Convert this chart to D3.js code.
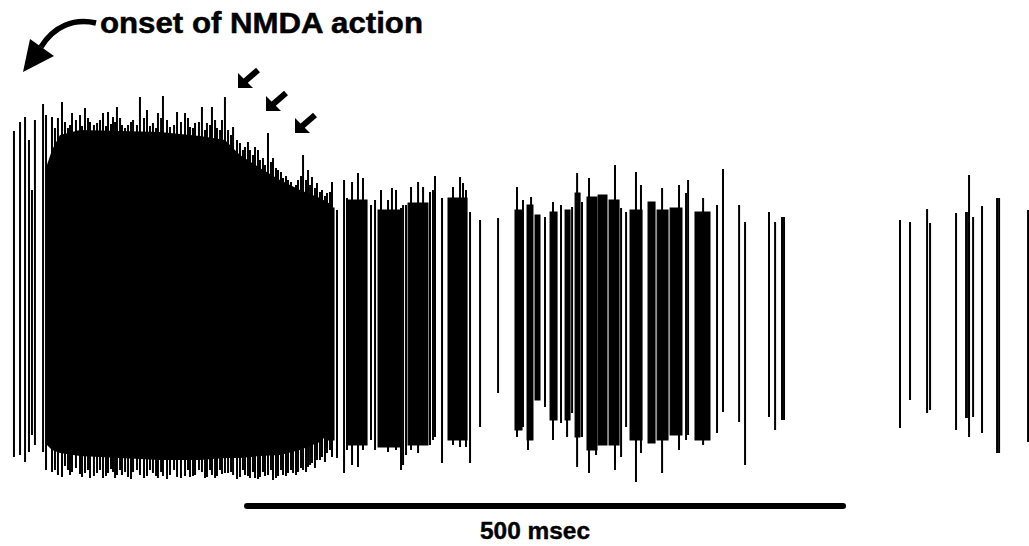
<!DOCTYPE html>
<html><head><meta charset="utf-8">
<script src="https://cdn.jsdelivr.net/npm/d3@7"></script>
<style>html,body{margin:0;padding:0;background:#fff;} svg{display:block}</style>
</head><body>
<svg id="chart" width="1029" height="546"></svg>
<script>
// ---------- DATA (time in ms, amplitude in arbitrary units) ----------
// isolated / sparse spikes
const spikeTimes = [4.5, 9.6, 13.8, 17.1, 19.6, 22.1, 28.9, 31.4,
  275.5, 281.4, 283.9, 288.1, 293.1, 297.3, 304.0, 307.4, 312.4, 318.3, 321.6, 325.0, 329.2, 330.9, 333.4, 337.6, 343.5, 347.7, 353.5, 356.0, 357.7, 363.6, 372.8, 378.7, 381.2, 383.7, 387.1, 395.5, 410.6, 426.5, 431.5, 435.7, 438.3, 450.0, 456.7, 463.4, 468.5, 472.7, 476.9, 481.0, 486.9, 492.8, 508.7, 513.8, 518.0, 526.3, 530.5, 548.2, 562.4, 568.3, 570.0, 582.6, 594.3, 599.3, 612.8, 617.8, 637.9, 643.0, 648.8, 650.5, 747.8, 756.2, 770.5, 773.0, 794.8, 803.2, 804.9, 805.7, 809.1, 816.6, 829.2, 830.9, 855.2];
const spikePeaks = [159, 168, 173, 150, 100, 170, 186, 175,
  80, 110, 92, 108, 117, 112, 85, 90, 100, 90, 102, 100, 82, 85, 85, 103, 108, 103, 98, 100, 114, 92, 103, 113, 107, 100, 78, 70, 72, 103, 90, 85, 93, 73, 88, 85, 80, 83, 117, 88, 112, 93, 125, 82, 78, 118, 105, 102, 105, 97, 110, 92, 85, 121, 85, 68, 78, 68, 73, 73, 70, 68, 81, 67, 77, 78, 78, 115, 73, 84, 92, 92, 80];
const spikeTroughs = [-167, -165, -172, -162, -145, -155, -162, -180,
  -168, -183, -160, -175, -177, -160, -150, -160, -157, -162, -157, -160, -180, -175, -165, -160, -163, -155, -155, -150, -147, -173, -155, -157, -150, -157, -173, -137, -103, -147, -137, -160, -150, -117, -150, -133, -147, -123, -177, -147, -183, -165, -180, -167, -137, -192, -163, -183, -160, -150, -145, -155, -143, -122, -132, -175, -127, -140, -130, -130, -138, -110, -123, -120, -140, -128, -128, -147, -127, -143, -163, -163, -152];

// spikes of the initial NMDA-driven high-frequency discharge
const onsetSpikeTimes = [36.4, 41.4, 44.8, 49.8, 53.2, 59.9, 64.1, 68.3, 74.2, 79.2, 83.4, 87.6, 90.9, 95.1, 100.2, 104.4, 110.2, 116.1, 121.1, 125.3, 129.5, 135.4, 141.3, 148.0, 152.2, 156.4, 162.2, 166.4, 170.6, 174.8, 179.0, 181.5, 184.1, 188.3, 194.1, 198.3, 202.5, 206.7, 210.9, 217.6, 221.8, 226.0, 230.2, 234.4, 238.6, 242.8, 247.0, 251.2, 254.5, 258.7, 262.9, 267.1, 271.3,
  38.9, 47.3, 51.5, 56.5, 61.6, 66.6, 71.6, 76.7, 81.7, 85.9, 89.3, 93.5, 97.7, 102.7, 107.7, 113.6, 118.6, 123.7, 127.9, 132.9, 138.8, 144.6, 150.5, 154.7, 159.7, 164.8, 169.0, 173.2, 177.4, 186.6, 191.6, 196.6, 200.8, 205.0, 209.2, 213.4, 215.1, 220.1, 224.3, 228.5, 232.7, 236.9, 241.1, 245.3, 249.5, 252.9, 257.0, 261.2, 265.4, 269.6];
const onsetSpikePeaks = [173, 172, 188, 162, 177, 175, 182, 168, 167, 177, 178, 173, 183, 165, 165, 170, 193, 180, 167, 177, 194, 163, 178, 177, 163, 167, 183, 167, 183, 162, 170, 193, 160, 163, 147, 143, 140, 143, 130, 157, 132, 120, 112, 110, 103, 110, 135, 120, 113, 107, 100, 97, 108,
  162, 168, 165, 170, 164, 172, 165, 170, 164, 166, 168, 172, 162, 168, 165, 172, 164, 162, 172, 170, 165, 168, 172, 162, 168, 160, 165, 170, 160, 155, 150, 140, 148, 135, 140, 132, 125, 128, 122, 118, 114, 108, 105, 114, 110, 105, 102, 98, 94, 98];
const onsetSpikeTroughs = [-182, -185, -187, -180, -182, -184, -183, -188, -183, -188, -183, -182, -185, -185, -187, -182, -185, -186, -183, -188, -186, -185, -187, -186, -187, -185, -182, -187, -185, -186, -184, -183, -183, -185, -187, -185, -188, -188, -187, -185, -190, -186, -185, -183, -183, -182, -180, -177, -173, -170, -167, -163, -167,
  -180, -176, -185, -178, -187, -180, -186, -180, -186, -179, -188, -180, -182, -189, -180, -188, -180, -186, -182, -189, -180, -188, -180, -186, -180, -188, -180, -188, -180, -182, -189, -180, -186, -182, -189, -182, -186, -180, -188, -180, -186, -180, -185, -178, -182, -175, -178, -170, -172, -160];

// envelope of the initial discharge (membrane swept continuously between spikes)
const onsetEnvTimes = [32.2, 36.4, 43.1, 59.9, 93.5, 127.0, 160.6, 181.5, 194.1, 210.9, 227.7, 244.5, 261.2, 271.3];
const onsetEnvUpper = [125, 140, 155, 160, 159, 158, 154, 150, 135, 122, 110, 100, 92, 85];
const onsetEnvLower = [-155, -160, -163, -166, -168, -170, -170, -168, -168, -166, -165, -160, -152, -140];

// later high-frequency clusters (envelope of closely packed spikes)
const burstStart  = [268.0, 284.7, 309.9, 335.1, 368.6, 424.8, 434.9, 441.6, 454.2, 466.8, 475.2, 485.2, 494.5, 503.7, 521.3, 536.4, 544.0, 554.9, 575.8];
const burstEnd    = [273.0, 300.7, 328.4, 351.8, 384.6, 430.7, 439.9, 445.8, 460.1, 471.0, 479.4, 493.6, 502.0, 512.1, 531.4, 542.3, 553.2, 564.9, 588.4];
const burstPeak   = [82, 90, 80, 87, 92, 80, 85, 75, 78, 80, 97, 93, 95, 90, 80, 88, 80, 82, 78];
const burstTrough = [-150, -155, -157, -155, -150, -140, -150, -110, -130, -130, -147, -160, -155, -155, -150, -153, -150, -145, -150];

const scaleBarMs = [200, 700];
const scaleBarLabel = "500 msec";
const onsetLabel = "onset of NMDA action";

// ---------- DRAW ----------
const svg = d3.select("#chart");
const x = d3.scaleLinear().domain([0, 856]).range([8.6, 1029]);
const y = d3.scaleLinear().domain([-190, 190]).range([480, 100]);
const FONT = "'Liberation Sans', Arial, Helvetica, sans-serif";

const env = onsetEnvTimes.map((t, i) => ({t, hi: onsetEnvUpper[i], lo: onsetEnvLower[i]}));
svg.append("path")
  .datum(env)
  .attr("fill", "#000")
  .attr("d", d3.area().x(d => x(d.t)).y0(d => y(d.lo)).y1(d => y(d.hi)));

const bursts = burstStart.map((s, i) => ({s, e: burstEnd[i], p: burstPeak[i], q: burstTrough[i]}));
svg.append("g").selectAll("rect").data(bursts).join("rect")
  .attr("x", d => x(d.s)).attr("width", d => x(d.e) - x(d.s))
  .attr("y", d => y(d.p)).attr("height", d => y(d.q) - y(d.p))
  .attr("fill", "#000").attr("stroke", "#000").attr("stroke-width", 1);

const onset = onsetSpikeTimes.map((t, i) => ({t, p: onsetSpikePeaks[i], q: onsetSpikeTroughs[i]}));
svg.append("g").selectAll("line").data(onset).join("line")
  .attr("x1", d => x(d.t)).attr("x2", d => x(d.t))
  .attr("y1", d => y(d.p)).attr("y2", d => y(d.q))
  .attr("stroke", "#000").attr("stroke-width", 2);

const spikes = spikeTimes.map((t, i) => ({t, p: spikePeaks[i], q: spikeTroughs[i]}));
svg.append("g").selectAll("line").data(spikes).join("line")
  .attr("x1", d => x(d.t)).attr("x2", d => x(d.t))
  .attr("y1", d => y(d.p)).attr("y2", d => y(d.q))
  .attr("stroke", "#000").attr("stroke-width", 2);

// scale bar
svg.append("line")
  .attr("x1", x(scaleBarMs[0])).attr("x2", x(scaleBarMs[1]))
  .attr("y1", 506).attr("y2", 506)
  .attr("stroke", "#000").attr("stroke-width", 6).attr("stroke-linecap", "round");
svg.append("text")
  .attr("x", 535).attr("y", 539).attr("text-anchor", "middle")
  .attr("font-family", FONT).attr("font-weight", "bold")
  .attr("font-size", 24).attr("textLength", 110).attr("lengthAdjust", "spacingAndGlyphs")
  .attr("stroke", "#000").attr("stroke-width", 0.4)
  .text(scaleBarLabel);

// title annotation with curved arrow
svg.append("text")
  .attr("x", 100).attr("y", 33)
  .attr("font-family", FONT).attr("font-weight", "bold")
  .attr("font-size", 29).attr("textLength", 323).attr("lengthAdjust", "spacingAndGlyphs")
  .attr("stroke", "#000").attr("stroke-width", 0.5)
  .text(onsetLabel);
svg.append("path")
  .attr("d", "M 96 23 C 74 18, 54 26, 41 47")
  .attr("fill", "none").attr("stroke", "#000").attr("stroke-width", 5.5);
svg.append("path")
  .attr("d", "M 23 72 L 30 39 L 54 56 Z").attr("fill", "#000");

// three small arrows pointing at the declining peaks
const arrowTips = [[238, 88], [266, 111], [295, 133]];
arrowTips.forEach(([tx, ty]) => {
  svg.append("line").attr("x1", tx + 5).attr("y1", ty - 5).attr("x2", tx + 20).attr("y2", ty - 18)
    .attr("stroke", "#000").attr("stroke-width", 6);
  svg.append("path").attr("d", `M ${tx} ${ty} L ${tx} ${ty - 15} L ${tx + 15} ${ty} Z`).attr("fill", "#000");
});
</script>
</body></html>
